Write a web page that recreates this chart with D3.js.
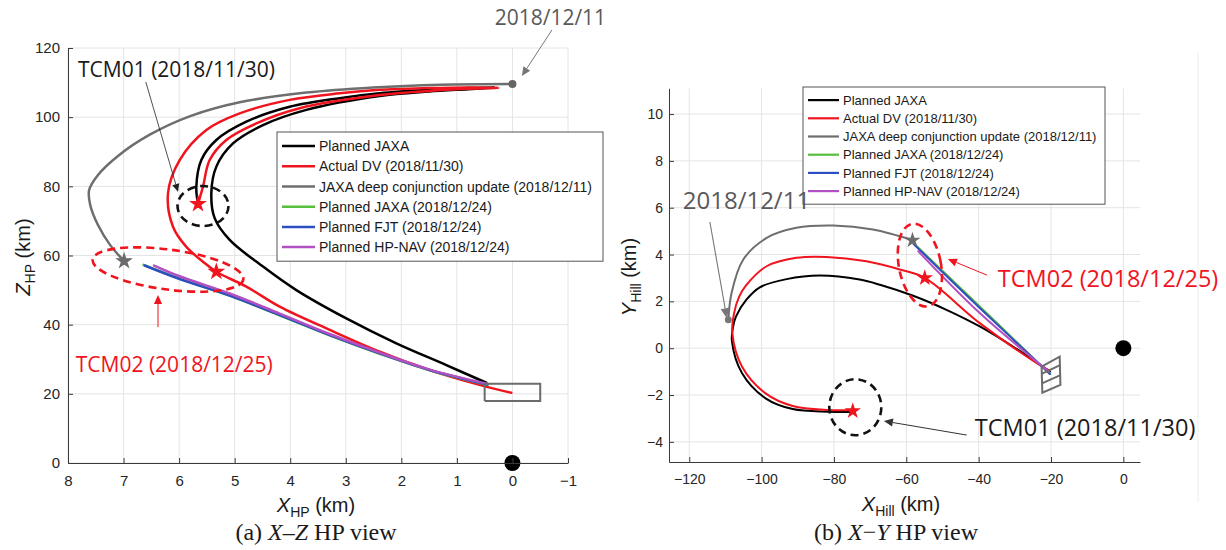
<!DOCTYPE html>
<html>
<head>
<meta charset="utf-8">
<script src="https://cdn.jsdelivr.net/npm/d3@7"></script>
<style>
  body { margin: 0; background: #fff; }
</style>
</head>
<body>
<div id="chart"></div>
<script>
// ---- data (km) ----
var seriesNames = [
  "Planned JAXA",
  "Actual DV (2018/11/30)",
  "JAXA deep conjunction update (2018/12/11)",
  "Planned JAXA (2018/12/24)",
  "Planned FJT (2018/12/24)",
  "Planned HP-NAV (2018/12/24)"
];
var seriesColors = ["#000000", "#f0141e", "#6e6e6e", "#57bf3b", "#2d4fc1", "#b24fc2"];

// (a) X-Z HP view : [X_HP, Z_HP]
var xzTicksX = [8, 7, 6, 5, 4, 3, 2, 1, 0, -1];
var xzTicksY = [0, 20, 40, 60, 80, 100, 120];
var xzPlannedJaxa = [[5.66, 74.9], [5.69, 79.9], [5.6, 87.6], [5.33, 93.4], [4.79, 98.7], [4.01, 103], [3.11, 105.5], [2.39, 106.9], [1.5, 107.9], [0.8, 108.4], [0.3, 108.6], [0.8, 108.1], [1.5, 107.4], [2.39, 106.1], [3.71, 102.1], [4.49, 97.7], [5.03, 92.4], [5.33, 85.7], [5.42, 78], [5.36, 70.8], [5.09, 64.5], [4.49, 56.8], [3.89, 50], [2.99, 41.8], [2.09, 34.6], [1.19, 28.3], [0.47, 23.2]];
var xzActualDv = [[5.66, 74.9], [5.57, 79.9], [5.45, 87.6], [5.15, 93.4], [4.61, 98.2], [3.83, 102.6], [2.39, 106.4], [1.5, 107.6], [0.8, 108.2], [0.25, 108.5], [0.8, 108.6], [1.5, 108.4], [2.39, 107.9], [3.11, 106.9], [4.01, 105], [4.91, 101.1], [5.51, 96.3], [5.99, 87.6], [6.2, 78], [6.11, 68.3], [5.87, 62.5], [5.57, 58.2], [5.33, 55.3], [4.79, 51], [4.19, 45.2], [3.29, 38.5], [2.39, 32.2], [1.49, 26.9], [0.59, 22.6], [0.02, 20.3]];
var xzDeepConj = [[0, 109.6], [1.3, 109.4], [2.51, 108.6], [3.71, 107.1], [4.91, 104.3], [5.8, 100.3], [6.52, 95.0], [7.1, 88.8], [7.46, 83.3], [7.62, 78.9], [7.6, 74.6], [7.46, 68.8], [7.24, 63.0], [6.99, 58.4]];
var xzJaxa1224 = [[6.64, 57.3], [5.99, 53.3], [5.09, 48.4], [4.19, 42.7], [3.29, 36.9], [2.39, 31.6], [1.49, 26.8], [0.45, 22.6]];
var xzFjt1224 = [[6.62, 57.1], [5.99, 53.2], [5.09, 48.4], [4.19, 42.8], [3.29, 37.0], [2.39, 31.7], [1.49, 26.9], [0.45, 22.7]];
var xzHpnav1224 = [[6.45, 57.1], [5.99, 54.0], [5.09, 49.0], [4.19, 43.2], [3.29, 37.3], [2.39, 31.9], [1.49, 27.0], [0.45, 22.9]];
var xzStarsRed = [[5.66, 74.9], [5.33, 55.3]];
var xzStarGray = [6.99, 58.4];
var xzUpdatePoint = [0, 109.6];
var xzRyugu = [0, 0];
var xzHomeBox = [[0.5, 17.9], [-0.5, 17.9], [-0.5, 22.9], [0.5, 22.9], [0.5, 17.9]];

// (b) X-Y HP view : [X_Hill, Y_Hill]
var xyTicksX = [-120, -100, -80, -60, -40, -20, 0];
var xyTicksY = [-4, -2, 0, 2, 4, 6, 8, 10];
var xyPlannedJaxa = [[-74.8, -2.72], [-81.6, -2.71], [-91.4, -2.6], [-98.9, -2.14], [-105.4, -1.07], [-108.2, 0.3], [-107.9, 0.9], [-107.1, 1.35], [-104.2, 2.07], [-100.5, 2.6], [-93.1, 2.95], [-83.9, 3.1], [-72.9, 2.93], [-67.3, 2.71], [-58.1, 2.24], [-48.9, 1.64], [-39.7, 0.93], [-30.5, 0.07], [-22.2, -0.79], [-20.3, -1.0]];
var xyActualDv = [[-74.8, -2.64], [-81.6, -2.64], [-91.4, -2.47], [-98.9, -1.93], [-105.4, -0.79], [-108.1, 0.64], [-107.6, 1.5], [-106.2, 2.2], [-104.2, 2.7], [-98.6, 3.5], [-90.4, 3.86], [-82.1, 3.9], [-71, 3.71], [-61.8, 3.36], [-54.9, 3.0], [-39.7, 1.07], [-23.1, -0.72], [-20.5, -0.95]];
var xyDeepConj = [[-109.2, 1.21], [-108.3, 2.36], [-105.1, 3.78], [-98.6, 4.71], [-90.4, 5.14], [-80.2, 5.24], [-69.2, 5.07], [-58.1, 4.61]];
var xyJaxa1224 = [[-58.1, 4.5], [-39.7, 1.78], [-20.3, -1.1]];
var xyFjt1224 = [[-58.0, 4.45], [-39.7, 1.72], [-20.3, -1.1]];
var xyHpnav1224 = [[-56.7, 4.14], [-39.7, 1.5], [-20.6, -1.0]];
var xyStarsRed = [[-74.8, -2.68], [-54.9, 3.0]];
var xyStarGray = [-58.3, 4.61];
var xyUpdatePoint = [-109.2, 1.21];
var xyRyugu = [0, 0];
var xyHomeBox = [[-22.6, -0.79], [-17.6, -0.36], [-17.4, -1.57], [-22.4, -1.9], [-22.6, -0.79]];
var xyHomeBoxInner = [[[-22.6, -1.1], [-17.5, -0.72]], [[-22.5, -1.5], [-17.4, -1.15]]];

// ---- drawing ----
var svg = d3
  .select("#chart")
  .append("svg")
  .attr("width", 1226)
  .attr("height", 550)
  .style("font-family", "'Liberation Sans', Arial, sans-serif");

var defs = svg.append("defs");
defs.append("clipPath").attr("id", "clipXZ").append("rect")
  .attr("x", 68).attr("y", 40).attr("width", 500).attr("height", 423);
defs.append("clipPath").attr("id", "clipXY").append("rect")
  .attr("x", 669).attr("y", 88).attr("width", 471).attr("height", 374);

var xzX = d3.scaleLinear().domain([8, -1]).range([68, 568]);
var xzY = d3.scaleLinear().domain([0, 120]).range([463, 48]);
var xyX = d3.scaleLinear().domain([-125.6, 4.6]).range([669, 1140]);
var xyY = d3.scaleLinear().domain([-4.86, 11.1]).range([462, 88.3]);

function drawGrid(g, x, y, tx, ty) {
  g.append("g").selectAll("line").data(tx).enter().append("line")
    .attr("x1", function(d) { return x(d); })
    .attr("x2", function(d) { return x(d); })
    .attr("y1", y.range()[0])
    .attr("y2", y.range()[1])
    .attr("stroke", "#e4e4e4");
  g.append("g").selectAll("line").data(ty).enter().append("line")
    .attr("y1", function(d) { return y(d); })
    .attr("y2", function(d) { return y(d); })
    .attr("x1", x.range()[0])
    .attr("x2", x.range()[1])
    .attr("stroke", "#e4e4e4");
}

function drawAxes(g, x, y, tx, ty, fs, padX, padY) {
  var ax = g.append("g")
    .attr("transform", "translate(0," + y.range()[0] + ")")
    .call(d3.axisBottom(x).tickValues(tx).tickSizeInner(-5).tickSizeOuter(0).tickPadding(padX));
  var ay = g.append("g")
    .attr("transform", "translate(" + x.range()[0] + ",0)")
    .call(d3.axisLeft(y).tickValues(ty).tickSizeInner(-5).tickSizeOuter(0).tickPadding(padY));
  [ax, ay].forEach(function(a) {
    a.attr("font-family", "'Liberation Sans', Arial, sans-serif").attr("font-size", fs);
    a.select(".domain").attr("stroke", "#3a3a3a");
    a.selectAll(".tick line").attr("stroke", "#3a3a3a");
    a.selectAll(".tick text").attr("fill", "#262626");
  });
}

function drawSeries(g, x, y, list, w) {
  var line = d3.line()
    .x(function(d) { return x(d[0]); })
    .y(function(d) { return y(d[1]); })
    .curve(d3.curveCatmullRom.alpha(0.5));
  list.forEach(function(s, i) {
    g.append("path")
      .attr("d", line(s))
      .attr("fill", "none")
      .attr("stroke", seriesColors[i])
      .attr("stroke-width", w)
      .attr("stroke-linejoin", "round")
      .attr("stroke-linecap", "round");
  });
}

function drawLegend(g, x0, y0, w, rowH, fs, sampleW, lw) {
  var h = rowH * seriesNames.length + 8;
  g.append("rect").attr("x", x0).attr("y", y0).attr("width", w).attr("height", h)
    .attr("fill", "#fff").attr("stroke", "#555").attr("stroke-width", 1);
  var rows = g.selectAll(".lg").data(seriesNames).enter().append("g")
    .attr("transform", function(d, i) { return "translate(" + (x0 + 5) + "," + (y0 + 4 + rowH * (i + 0.5)) + ")"; });
  rows.append("line").attr("x1", 0).attr("x2", sampleW).attr("y1", 0).attr("y2", 0)
    .attr("stroke", function(d, i) { return seriesColors[i]; })
    .attr("stroke-width", lw);
  rows.append("text").attr("x", sampleW + 4).attr("y", 0).attr("dy", "0.36em")
    .attr("font-size", fs).attr("fill", "#1a1a1a")
    .text(function(d) { return d; });
}

function arrow(g, x1, y1, x2, y2, color, w, head) {
  var a = Math.atan2(y2 - y1, x2 - x1);
  var hl = head, hw = head * 0.45;
  var bx = x2 - hl * Math.cos(a), by = y2 - hl * Math.sin(a);
  g.append("line").attr("x1", x1).attr("y1", y1).attr("x2", bx).attr("y2", by)
    .attr("stroke", color).attr("stroke-width", w);
  g.append("path")
    .attr("d", "M" + x2 + "," + y2 +
      "L" + (bx + hw * Math.sin(a)) + "," + (by - hw * Math.cos(a)) +
      "L" + (bx - hw * Math.sin(a)) + "," + (by + hw * Math.cos(a)) + "Z")
    .attr("fill", color);
}

function star(g, x, y, p, size, color) {
  g.append("path")
    .attr("d", d3.symbol().type(d3.symbolStar).size(size)())
    .attr("transform", "translate(" + x(p[0]) + "," + y(p[1]) + ")")
    .attr("fill", color).attr("stroke", color).attr("stroke-width", 1.2);
}

var annoFont = "'Open Sans', 'Noto Sans', sans-serif";

// ================= (a) X-Z =================
var gA = svg.append("g");
drawGrid(gA, xzX, xzY, xzTicksX, xzTicksY);

var curvesA = gA.append("g").attr("clip-path", "url(#clipXZ)");
drawSeries(curvesA, xzX, xzY, [xzPlannedJaxa, xzActualDv, xzDeepConj, xzJaxa1224, xzFjt1224, xzHpnav1224], 2.5);

gA.append("path")
  .attr("d", d3.line().x(function(d) { return xzX(d[0]); }).y(function(d) { return xzY(d[1]); })(xzHomeBox))
  .attr("fill", "none").attr("stroke", "#6b6b6b").attr("stroke-width", 2);
gA.append("circle").attr("cx", xzX(xzRyugu[0])).attr("cy", xzY(xzRyugu[1])).attr("r", 8).attr("fill", "#000");
gA.append("circle").attr("cx", xzX(xzUpdatePoint[0])).attr("cy", xzY(xzUpdatePoint[1])).attr("r", 4).attr("fill", "#666");
star(gA, xzX, xzY, xzStarGray, 60, "#6b6b6b");
xzStarsRed.forEach(function(p) { star(gA, xzX, xzY, p, 62, "#f0141e"); });

drawLegend(gA, 277, 132, 326, 20.2, 14, 33, 2.5);

// annotations (a)
gA.append("ellipse").attr("cx", xzX(5.57)).attr("cy", xzY(74.3)).attr("rx", 25.5).attr("ry", 20)
  .attr("fill", "none").attr("stroke", "#111").attr("stroke-width", 2.6).attr("stroke-dasharray", "8,5");
gA.append("ellipse").attr("rx", 76).attr("ry", 20)
  .attr("transform", "translate(" + xzX(6.2) + "," + xzY(55.95) + ") rotate(7.5)")
  .attr("fill", "none").attr("stroke", "#f0141e").attr("stroke-width", 2.6).attr("stroke-dasharray", "8,5");
arrow(gA, xzX(6.6), xzY(110.2), xzX(6.02), xzY(78.4), "#222", 0.8, 8);
arrow(gA, xzX(6.38), xzY(39.3), xzX(6.38), xzY(48.6), "#f0141e", 1, 9);
arrow(gA, xzX(-0.71), xzY(125.2), xzX(-0.17), xzY(111.9), "#777", 1, 9);
gA.append("text").attr("x", xzX(7.82)).attr("y", xzY(111.6)).attr("font-family", annoFont)
  .attr("font-size", 21).attr("fill", "#1a1a1a").text("TCM01 (2018/11/30)");
gA.append("text").attr("x", xzX(7.86)).attr("y", xzY(26.3)).attr("font-family", annoFont)
  .attr("font-size", 21).attr("fill", "#f0141e").text("TCM02 (2018/12/25)");
gA.append("text").attr("x", xzX(0.32)).attr("y", xzY(126.6)).attr("font-family", annoFont)
  .attr("font-size", 21).attr("fill", "#595959").text("2018/12/11");

drawAxes(gA, xzX, xzY, xzTicksX, xzTicksY, 15, 12, 8);

// axis labels (a)
var xlA = gA.append("text").attr("x", 316).attr("y", 512).attr("text-anchor", "middle").attr("font-size", 20).attr("fill", "#1a1a1a");
xlA.append("tspan").attr("font-style", "italic").text("X");
xlA.append("tspan").attr("font-size", 14).attr("dy", 5).text("HP");
xlA.append("tspan").attr("dy", -5).text(" (km)");
var ylA = gA.append("text").attr("transform", "translate(30,257) rotate(-90)").attr("text-anchor", "middle").attr("font-size", 20).attr("fill", "#1a1a1a");
ylA.append("tspan").attr("font-style", "italic").text("Z");
ylA.append("tspan").attr("font-size", 14).attr("dy", 5).text("HP");
ylA.append("tspan").attr("dy", -5).text(" (km)");
var capA = gA.append("text").attr("x", 316).attr("y", 540).attr("text-anchor", "middle")
  .attr("font-family", "'Liberation Serif', 'DejaVu Serif', serif").attr("font-size", 24).attr("fill", "#1a1a1a");
capA.append("tspan").text("(a) ");
capA.append("tspan").attr("font-style", "italic").text("X");
capA.append("tspan").text("\u2013");
capA.append("tspan").attr("font-style", "italic").text("Z");
capA.append("tspan").text(" HP view");

// ================= (b) X-Y =================
var gB = svg.append("g");
drawGrid(gB, xyX, xyY, xyTicksX, xyTicksY);
gB.append("line").attr("x1", 1198).attr("x2", 1198).attr("y1", 53).attr("y2", 502).attr("stroke", "#ececec");

var curvesB = gB.append("g").attr("clip-path", "url(#clipXY)");
drawSeries(curvesB, xyX, xyY, [xyPlannedJaxa, xyActualDv, xyDeepConj, xyJaxa1224, xyFjt1224, xyHpnav1224], 2);

var boxLine = d3.line().x(function(d) { return xyX(d[0]); }).y(function(d) { return xyY(d[1]); });
gB.append("path").attr("d", boxLine(xyHomeBox)).attr("fill", "none").attr("stroke", "#6b6b6b").attr("stroke-width", 2);
xyHomeBoxInner.forEach(function(s) {
  gB.append("path").attr("d", boxLine(s)).attr("fill", "none").attr("stroke", "#6b6b6b").attr("stroke-width", 2);
});
gB.append("circle").attr("cx", xyX(xyRyugu[0])).attr("cy", xyY(xyRyugu[1])).attr("r", 8).attr("fill", "#000");
gB.append("circle").attr("cx", xyX(xyUpdatePoint[0])).attr("cy", xyY(xyUpdatePoint[1])).attr("r", 3.5).attr("fill", "#777");
star(gB, xyX, xyY, xyStarGray, 48, "#6b6b6b");
xyStarsRed.forEach(function(p) { star(gB, xyX, xyY, p, 50, "#f0141e"); });

drawLegend(gB, 803, 87, 302, 18.2, 13, 31, 2.2);

// annotations (b)
gB.append("ellipse").attr("rx", 21).attr("ry", 42)
  .attr("transform", "translate(" + xyX(-56.25) + "," + xyY(3.55) + ") rotate(-11)")
  .attr("fill", "none").attr("stroke", "#f0141e").attr("stroke-width", 2.6).attr("stroke-dasharray", "8,5");
gB.append("ellipse").attr("cx", xyX(-74.1)).attr("cy", xyY(-2.52)).attr("rx", 26).attr("ry", 28)
  .attr("fill", "none").attr("stroke", "#111").attr("stroke-width", 2.6).attr("stroke-dasharray", "8,5");
arrow(gB, xyX(-114.3), xyY(5.39), xyX(-109.6), xyY(1.28), "#777", 1.1, 10);
arrow(gB, xyX(-37.7), xyY(3.12), xyX(-48.5), xyY(3.81), "#f0141e", 1, 9);
arrow(gB, xyX(-43.3), xyY(-3.71), xyX(-66.2), xyY(-3.11), "#333", 1, 9);
gB.append("text").attr("x", xyX(-121.8)).attr("y", xyY(5.94)).attr("font-family", annoFont)
  .attr("font-size", 24).attr("fill", "#595959").text("2018/12/11");
gB.append("text").attr("x", xyX(-34.7)).attr("y", xyY(2.61)).attr("font-family", annoFont)
  .attr("font-size", 23.5).attr("fill", "#f0141e").text("TCM02 (2018/12/25)");
gB.append("text").attr("x", xyX(-41.05)).attr("y", xyY(-3.75)).attr("font-family", annoFont)
  .attr("font-size", 23.5).attr("fill", "#1a1a1a").text("TCM01 (2018/11/30)");

drawAxes(gB, xyX, xyY, xyTicksX, xyTicksY, 14, 12, 6);

var xlB = gB.append("text").attr("x", 901).attr("y", 511).attr("text-anchor", "middle").attr("font-size", 20).attr("fill", "#1a1a1a");
xlB.append("tspan").attr("font-style", "italic").text("X");
xlB.append("tspan").attr("font-size", 14).attr("dy", 5).text("Hill");
xlB.append("tspan").attr("dy", -5).text(" (km)");
var ylB = gB.append("text").attr("transform", "translate(636,277) rotate(-90)").attr("text-anchor", "middle").attr("font-size", 20).attr("fill", "#1a1a1a");
ylB.append("tspan").attr("font-style", "italic").text("Y");
ylB.append("tspan").attr("font-size", 14).attr("dy", 5).text("Hill");
ylB.append("tspan").attr("dy", -5).text(" (km)");
var capB = gB.append("text").attr("x", 896).attr("y", 540).attr("text-anchor", "middle")
  .attr("font-family", "'Liberation Serif', 'DejaVu Serif', serif").attr("font-size", 24).attr("fill", "#1a1a1a");
capB.append("tspan").text("(b) ");
capB.append("tspan").attr("font-style", "italic").text("X");
capB.append("tspan").text("\u2212");
capB.append("tspan").attr("font-style", "italic").text("Y");
capB.append("tspan").text(" HP view");
</script>
</body>
</html>
